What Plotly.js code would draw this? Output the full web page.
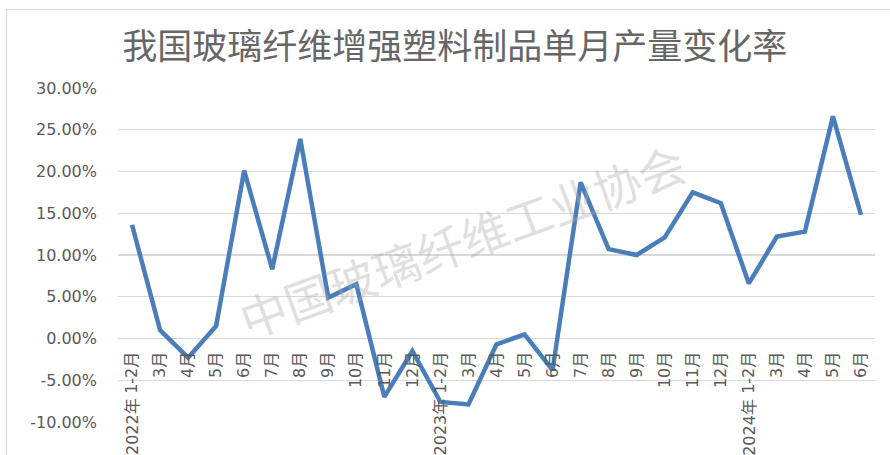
<!DOCTYPE html>
<html>
<head>
<meta charset="utf-8">
<script src="https://cdn.plot.ly/plotly-3.0.1.min.js"></script>
<style>
  html, body { margin: 0; padding: 0; background: #fff; }
  #wrap { position: relative; width: 890px; height: 455px; overflow: hidden; }
  #chart { position: absolute; left: 0; top: 0; width: 890px; height: 455px; }
  #frame { position: absolute; left: 6px; top: 9px; width: 900px; height: 460px;
           border-top: 1px solid #d9d9d9; border-left: 1px solid #d9d9d9; pointer-events: none; }
</style>
</head>
<body>
<div id="wrap"><div id="chart"></div><div id="frame"></div></div>
<script>
// Category labels (month within year)
const monthLabels = ["1-2月","3月","4月","5月","6月","7月","8月","9月","10月","11月","12月",
                     "1-2月","3月","4月","5月","6月","7月","8月","9月","10月","11月","12月",
                     "1-2月","3月","4月","5月","6月"];
// Year group labels and index of the first category in each group
const yearLabels = ["2022年","2023年","2024年"];
const yearStart = [0, 11, 22];
// Monthly output change rate (%)
const changeRate = [13.6, 1.0, -2.3, 1.5, 20.1, 8.3, 23.9, 4.9, 6.5, -7.0, -1.5,
                    -7.6, -7.9, -0.7, 0.5, -3.8, 18.7, 10.7, 10.0, 12.1, 17.5, 16.2,
                    6.6, 12.2, 12.8, 26.6, 14.8];
// Y axis ticks
const yTickVals = [-10, -5, 0, 5, 10, 15, 20, 25, 30];
const yTickText = ["-10.00%","-5.00%","0.00%","5.00%","10.00%","15.00%","20.00%","25.00%","30.00%"];
const titleText = "我国玻璃纤维增强塑料制品单月产量变化率";
const watermark = "中国玻璃纤维工业协会";

const idx = monthLabels.map((_, i) => i);
const yMin = -10, yMax = 30;

const trace = {
  x: idx, y: changeRate, type: 'scatter', mode: 'lines',
  line: { color: '#4a7ebb', width: 4.5, shape: 'linear' },
  hoverinfo: 'skip'
};

const annotations = yearLabels.map((t, k) => ({
  x: yearStart[k], xref: 'x', y: -0.015, yref: 'paper',
  text: t, showarrow: false, textangle: -90,
  xanchor: 'center', yanchor: 'middle',
  font: { family: 'DejaVu Sans, Noto Sans CJK SC', size: 16, color: '#595959' }
}));
annotations.push({
  x: 0.455, xref: 'paper', y: 0.545, yref: 'paper',
  text: watermark, showarrow: false, textangle: -20,
  font: { family: 'Noto Sans CJK SC', size: 47, color: 'rgba(170,170,170,0.38)' }
});

const layout = {
  width: 890, height: 455,
  margin: { l: 118, r: 15, t: 88, b: 33, pad: 0 },
  paper_bgcolor: 'rgba(0,0,0,0)', plot_bgcolor: 'rgba(0,0,0,0)',
  showlegend: false,
  title: {
    text: titleText, x: 0.511, xref: 'container', xanchor: 'center',
    y: 0.897, yref: 'container', yanchor: 'middle',
    font: { family: 'Noto Sans CJK SC', size: 35, color: '#666666' }
  },
  xaxis: {
    range: [-0.5, idx.length - 0.5],
    anchor: 'free', position: (0 - yMin) / (yMax - yMin),
    tickmode: 'array', tickvals: idx, ticktext: monthLabels,
    tickangle: -90, ticks: '', ticklabelstandoff: 9,
    showgrid: false, zeroline: false, showline: false,
    tickfont: { family: 'DejaVu Sans, Noto Sans CJK SC', size: 16, color: '#595959' },
    fixedrange: true
  },
  yaxis: {
    range: [yMin, yMax],
    tickmode: 'array', tickvals: yTickVals, ticktext: yTickText,
    showgrid: true, gridcolor: '#d9d9d9', gridwidth: 1.3,
    zeroline: false, showline: false, ticks: '', ticklabelstandoff: 20,
    tickfont: { family: 'DejaVu Sans', size: 16, color: '#595959' },
    fixedrange: true
  },
  annotations: annotations
};

Plotly.newPlot('chart', [trace], layout, { displayModeBar: false, staticPlot: true });
</script>
</body>
</html>
